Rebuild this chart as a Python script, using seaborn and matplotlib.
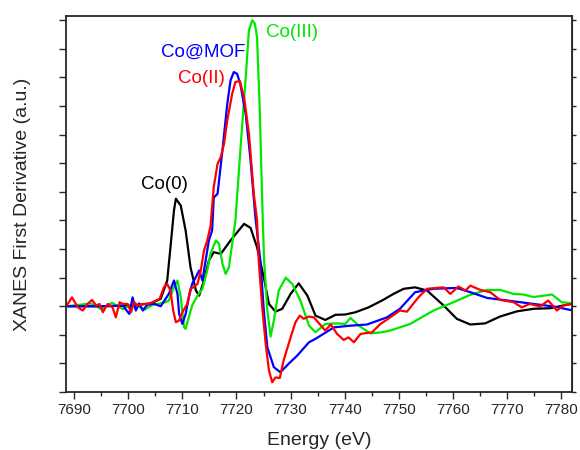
import seaborn as sns
import pandas as pd
import matplotlib.pyplot as plt
from matplotlib.ticker import MultipleLocator, NullFormatter

# values (energy in eV, derivative in a.u.)
e_co0 = [7688.6, 7694.9, 7700.5, 7704.2, 7706.0, 7707.2, 7707.8, 7708.45, 7708.8,
         7709.7, 7710.6, 7711.5, 7712.5, 7713.1, 7714.0, 7714.9, 7715.8, 7717.1,
         7718.9, 7721.4, 7722.6, 7723.8, 7725.05, 7726.0, 7727.2, 7728.45, 7730.0,
         7731.5, 7733.1, 7734.6, 7736.4, 7738.3, 7740.1, 7742.0, 7744.4, 7746.9,
         7749.0, 7750.9, 7753.0, 7755.2, 7758.3, 7760.7, 7763.2, 7765.95, 7768.7,
         7771.8, 7774.9, 7777.95, 7781.0, 7782.2]
d_co0 = [0.0, 0.0, 0.002, 0.01, 0.026, 0.09, 0.206, 0.335, 0.376,
         0.352, 0.265, 0.137, 0.055, 0.037, 0.09, 0.16, 0.189, 0.183,
         0.23, 0.288, 0.274, 0.206, 0.10, 0.008, -0.019, -0.009, 0.043,
         0.08, 0.037, -0.033, -0.048, -0.030, -0.029, -0.021, -0.004, 0.02,
         0.043, 0.061, 0.066, 0.055, 0.002, -0.044, -0.064, -0.06, -0.036,
         -0.018, -0.009, -0.007, 0.005, 0.009]

e_co3 = [7688.6, 7691.0, 7693.0, 7695.0, 7697.0, 7699.0, 7701.0, 7703.0, 7704.5,
         7706.0, 7706.9, 7707.5, 7708.45, 7709.1, 7709.7, 7710.3, 7710.6, 7711.2,
         7711.8, 7712.8, 7713.7, 7714.6, 7715.2, 7716.2, 7716.75, 7717.4, 7718.0,
         7718.6, 7719.2, 7719.8, 7720.8, 7721.7, 7722.3, 7722.9, 7723.4, 7723.8,
         7724.3, 7724.8, 7725.1, 7725.7, 7726.3, 7726.9, 7727.8, 7729.1, 7730.3,
         7731.8, 7733.4, 7734.6, 7736.4, 7738.6, 7740.1, 7741.05, 7742.6, 7744.7,
         7746.9, 7748.4, 7752.1, 7756.4, 7760.1, 7763.2, 7766.3, 7768.7, 7771.2,
         7773.0, 7774.9, 7778.3, 7780.1, 7782.2]
d_co3 = [0.0, 0.005, 0.01, -0.01, 0.012, -0.01, 0.008, -0.012, 0.005,
         0.01, 0.014, 0.020, 0.067, 0.09, 0.032, -0.073, -0.079, -0.038,
         0.002, 0.037, 0.061, 0.125, 0.184, 0.23, 0.219, 0.149, 0.113,
         0.136, 0.219, 0.30, 0.568, 0.80, 0.965, 1.0, 0.988, 0.94,
         0.685, 0.335, 0.16, -0.015, -0.106, -0.05, 0.055, 0.10, 0.078,
         0.02, -0.068, -0.091, -0.062, -0.06, -0.062, -0.041, -0.068, -0.095,
         -0.091, -0.085, -0.062, -0.015, 0.014, 0.04, 0.057, 0.057, 0.043,
         0.041, 0.032, 0.041, 0.014, 0.01]

e_mof = [7688.6, 7695.0, 7699.0, 7700.2, 7700.8, 7701.4, 7702.0, 7702.7, 7703.5,
         7704.8, 7706.0, 7706.9, 7707.5, 7708.45, 7709.1, 7709.4, 7710.0, 7710.6,
         7711.2, 7711.8, 7712.45, 7713.1, 7713.7, 7714.3, 7714.9, 7715.5, 7715.8,
         7716.5, 7717.4, 7718.3, 7718.9, 7719.5, 7720.1, 7720.7, 7721.7, 7722.6,
         7723.5, 7724.4, 7725.05, 7725.7, 7726.9, 7728.1, 7729.7, 7731.2, 7733.4,
         7734.6, 7738.0, 7741.05, 7744.1, 7747.8, 7750.2, 7753.0, 7756.4, 7760.7,
         7763.2, 7766.3, 7770.0, 7774.9, 7778.6, 7782.2]
d_mof = [0.0, 0.0, 0.002, -0.027, 0.031, -0.015, 0.01, -0.015, 0.005,
         0.008, 0.0, 0.026, 0.043, 0.09, 0.043, -0.027, -0.062, -0.027,
         0.031, 0.078, 0.10, 0.125, 0.09, 0.16, 0.23, 0.265, 0.38,
         0.393, 0.545, 0.708, 0.79, 0.819, 0.813, 0.778, 0.673, 0.51,
         0.31, 0.16, -0.015, -0.144, -0.213, -0.231, -0.2, -0.173, -0.126,
         -0.114, -0.074, -0.068, -0.064, -0.039, -0.009, 0.049, 0.061, 0.064,
         0.049, 0.029, 0.02, 0.008, -0.001, -0.015]

e_co2 = [7688.6, 7689.6, 7690.7, 7691.6, 7692.5, 7693.3, 7694.1, 7694.7, 7695.3,
         7696.2, 7697.1, 7697.7, 7698.4, 7699.0, 7699.9, 7700.5, 7701.1, 7701.75,
         7702.7, 7703.6, 7704.5, 7705.8, 7706.6, 7707.2, 7707.8, 7708.3, 7708.8,
         7709.4, 7710.0, 7710.9, 7711.5, 7712.1, 7712.8, 7713.4, 7714.0, 7714.6,
         7715.2, 7715.8, 7716.5, 7717.1, 7717.7, 7718.3, 7719.2, 7719.8, 7720.6,
         7721.4, 7722.3, 7723.2, 7723.8, 7724.1, 7724.8, 7725.4, 7726.0, 7726.6,
         7727.2, 7728.0, 7728.7, 7730.0, 7730.9, 7731.7, 7732.4, 7733.4, 7734.3,
         7736.4, 7737.4, 7738.6, 7739.8, 7740.7, 7741.7, 7742.9, 7745.05, 7746.6,
         7748.4, 7750.2, 7751.5, 7753.65, 7755.2, 7758.3, 7759.5, 7761.0, 7762.3,
         7763.2, 7765.05, 7766.9, 7768.7, 7771.2, 7772.7, 7774.2, 7776.1, 7777.6,
         7779.2, 7780.4, 7782.0]
d_co2 = [0.002, 0.031, -0.004, -0.015, 0.008, 0.022, 0.002, 0.008, -0.021,
         0.008, -0.004, -0.039, 0.014, 0.008, 0.008, -0.021, 0.014, 0.002,
         0.008, 0.008, 0.014, 0.026, 0.067, 0.078, 0.055, -0.015, -0.056,
         -0.05, -0.021, 0.008, 0.061, 0.067, 0.078, 0.125, 0.195, 0.23,
         0.28, 0.417, 0.498, 0.522, 0.568, 0.65, 0.743, 0.784, 0.788,
         0.731, 0.603, 0.393, 0.30, 0.16, -0.015, -0.132, -0.225, -0.266,
         -0.249, -0.251, -0.19, -0.109, -0.056, -0.033, -0.044, -0.036, -0.039,
         -0.085, -0.064, -0.097, -0.118, -0.109, -0.126, -0.097, -0.091, -0.062,
         -0.039, -0.015, -0.019, 0.032, 0.061, 0.066, 0.043, 0.069, 0.055,
         0.072, 0.057, 0.049, 0.022, 0.014, -0.004, 0.008, -0.001, 0.02,
         -0.015, 0.003, 0.008]

names = ['Co(0)', 'Co(III)', 'Co@MOF', 'Co(II)']
colors = ['black', '#00e800', '#0000ff', '#ff0000']
energies = [e_co0, e_co3, e_mof, e_co2]
derivs = [d_co0, d_co3, d_mof, d_co2]

frames = []
for n, e, d in zip(names, energies, derivs):
    frames.append(pd.DataFrame({'energy': e, 'deriv': d, 'sample': n}))
df = pd.concat(frames, ignore_index=True)

sns.set_style('ticks')
plt.rcParams['font.family'] = ['Liberation Sans', 'DejaVu Sans']

fig = plt.figure(figsize=(5.8, 4.5), dpi=100)
ax = fig.add_axes([0.1138, 0.1289, 0.8725, 0.8355])

for n, c in zip(names, colors):
    sns.lineplot(data=df[df['sample'] == n], x='energy', y='deriv', color=c,
                 linewidth=1.6, sort=False, estimator=None, ax=ax, legend=False)

ax.set_xlim(7688.5, 7782.0)
ax.set_ylim(-0.30, 1.015)
ax.xaxis.set_major_locator(MultipleLocator(10))
ax.xaxis.set_minor_locator(MultipleLocator(5))
ax.yaxis.set_major_locator(MultipleLocator(0.1))
ax.yaxis.set_major_formatter(NullFormatter())
ax.tick_params(axis='x', which='major', length=5, width=1, labelsize=11, pad=3)
ax.tick_params(axis='x', which='minor', length=3, width=1)
ax.tick_params(axis='y', which='major', length=5, width=1)

# short ticks on the right-hand spine
rax = ax.secondary_yaxis('right')
rax.yaxis.set_major_locator(MultipleLocator(0.1))
rax.yaxis.set_major_formatter(NullFormatter())
rax.tick_params(length=3, width=1)

for s in ax.spines.values():
    s.set_linewidth(1.3)

ax.set_xlabel('Energy (eV)', fontsize=14, labelpad=11)
ax.set_ylabel('XANES First Derivative (a.u.)', fontsize=14, labelpad=17)

ax.text(7706.6, 0.426, 'Co(0)', color='black', fontsize=13.5, ha='center', va='center')
ax.text(7706.0, 0.888, 'Co@MOF', color='#0000ff', fontsize=13.5, ha='left', va='center')
ax.text(7709.2, 0.797, 'Co(II)', color='#ff0000', fontsize=13.5, ha='left', va='center')
ax.text(7725.4, 0.958, 'Co(III)', color='#00e800', fontsize=13.5, ha='left', va='center')

fig.savefig('out.png', dpi=100)
